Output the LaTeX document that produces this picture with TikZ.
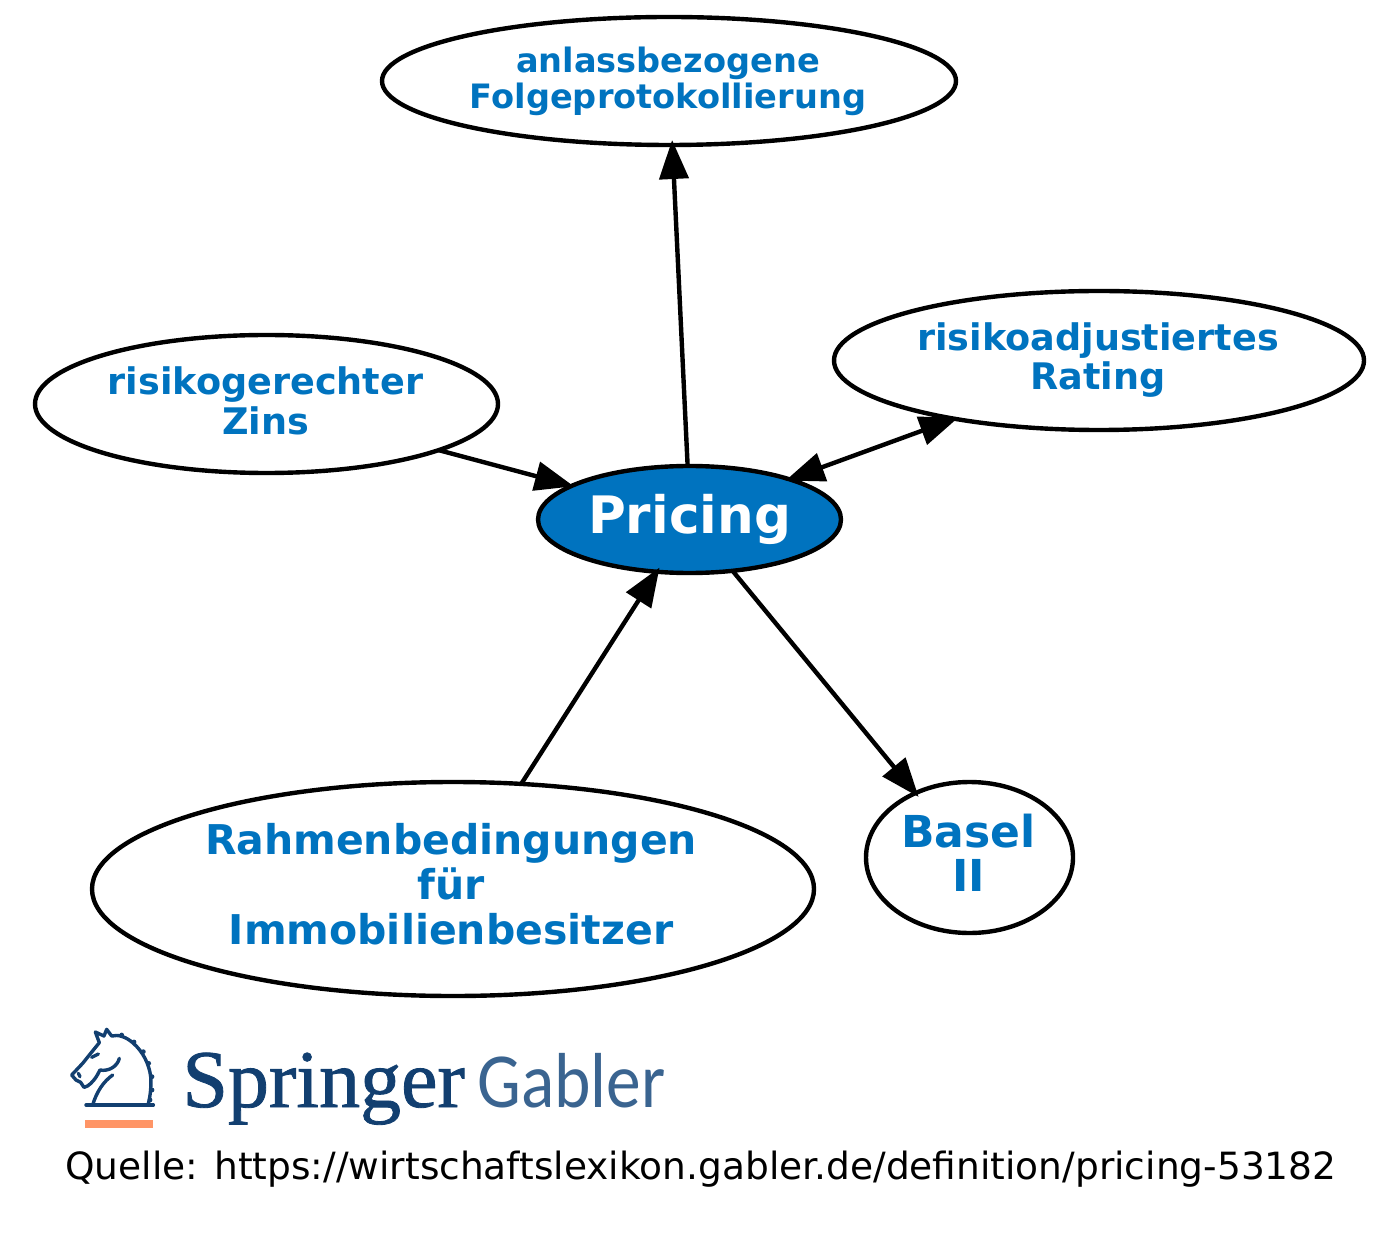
\documentclass[tikz,border=0pt]{standalone}
\usepackage{fontspec}
\setmainfont{DejaVu Sans}
\newfontfamily\logoserif[FakeBold=1]{Liberation Serif}
\newfontfamily\logosans[FakeStretch=0.89]{Carlito}
\usetikzlibrary{shapes.geometric,arrows.meta}
\definecolor{gablerblue}{HTML}{0073BF}
\definecolor{logoblue}{HTML}{123F70}
\definecolor{logolight}{HTML}{3A6490}
\definecolor{logoorange}{HTML}{FF9566}
\tikzset{
  concept/.style={ellipse,draw=black,line width=2.2pt,inner sep=0pt,outer sep=0pt},
  conceptlabel/.style={align=center,text=gablerblue,font=\bfseries,inner sep=0pt},
  link/.style={line width=2.2pt,draw=black,-{Triangle[length=19.5pt,width=14.5pt]},shorten >=-2.5pt},
  duallink/.style={line width=2.2pt,draw=black,{Triangle[length=19.5pt,width=14.5pt]}-{Triangle[length=19.5pt,width=14.5pt]},shorten >=-2pt,shorten <=-2pt},
  horse/.style={draw=logoblue,line width=1.7pt,line join=round,line cap=round}
}
\begin{document}
\begin{tikzpicture}[x=0.5pt,y=-0.5pt]
\useasboundingbox (0,0) rectangle (1400,1234);
\node[concept,minimum width=287pt,minimum height=64pt,
  label={[conceptlabel,name=anlasstext,xshift=-0.5pt,font=\bfseries\fontsize{16.8}{18}\selectfont]center:anlassbezogene\\Folgeprotokollierung}] (anlass) at (669,81) {};
\node[concept,minimum width=265pt,minimum height=69.5pt,
  label={[conceptlabel,name=ratingtext,xshift=-0.5pt,font=\bfseries\fontsize{18.3}{19.5}\selectfont]center:risikoadjustiertes\\Rating}] (rating) at (1099,360.5) {};
\node[concept,minimum width=231.5pt,minimum height=69pt,
  label={[conceptlabel,name=zinstext,xshift=-0.5pt,yshift=1.5pt,font=\bfseries\fontsize{18.3}{20}\selectfont]center:risikogerechter\\Zins}] (zins) at (266.5,404) {};
\node[concept,fill=gablerblue,minimum width=151.5pt,minimum height=53.5pt,
  label={[conceptlabel,name=pricingtext,text=white,font=\bfseries\fontsize{25.8}{28}\selectfont]center:Pricing}] (pricing) at (689.5,519.5) {};
\node[concept,minimum width=361pt,minimum height=107pt,
  label={[conceptlabel,name=rahmentext,xshift=-1pt,yshift=2.2pt,font=\bfseries\fontsize{20.5}{22.5}\selectfont]center:Rahmenbedingungen\\für\\Immobilienbesitzer}] (rahmen) at (453,889) {};
\node[concept,minimum width=103.5pt,minimum height=75.5pt,
  label={[conceptlabel,name=baseltext,xshift=-0.5pt,yshift=2.2pt,font=\bfseries\fontsize{22}{22}\selectfont]center:Basel\\II}] (basel) at (969.5,857.5) {};

\draw[link] (pricing.92) -- (anlass.-87);
\draw[link,shorten >=-1pt] (zins.-15) -- (pricing.164.3);
\draw[duallink] (pricing.22) -- (rating.202);
\draw[link] (rahmen.57.6) -- (pricing.238.2);
\draw[link] (pricing.-50.4) -- (basel.130);

% logo
\begin{scope}[shift={(60,1020)},x=0.16667pt,y=-0.16667pt]
\draw[horse] (78,255) -- (280,255);
\draw[horse] (264,255) .. controls (272,225) and (274,195) .. (272,170) .. controls (268,135) and (250,95) .. (218,68) .. controls (200,52) and (175,42) .. (155,48) -- (140,28) -- (132,48) -- (106,36) -- (118,68) .. controls (100,90) and (80,115) .. (68,130) -- (35,165) -- (48,180) -- (62,187) -- (72,202) .. controls (85,200) and (100,185) .. (112,165) -- (120,150) .. controls (145,155) and (172,140) .. (178,115);
\draw[horse] (158,165) .. controls (130,185) and (110,215) .. (98,255);
\draw[horse] (95,112) -- (115,102);
\draw[horse] (55,160) -- (60,170);
\foreach \px/\py in {185/45,222/66,250/95,266/130,276/170,276/210,270/240}
  \fill[logoblue] (\px,\py) circle[radius=1.2pt];
\fill[logoorange] (76,299) rectangle (280,325);
\end{scope}
\node[anchor=base west,inner sep=0pt,text=logoblue,font=\logoserif\fontsize{41}{41}\selectfont] (springer) at (182,1107) {Springer};
\node[anchor=base west,inner sep=0pt,text=logolight,font=\logosans\fontsize{39}{39}\selectfont] (gabler) at (477,1107) {Gabler};
\node[anchor=base west,inner sep=0pt,text=black,font=\fontsize{18.76}{20}\selectfont] (quelle) at (65,1179) {Quelle: https://wirtschaftslexikon.gabler.de/definition/pricing-53182};
\end{tikzpicture}
\end{document}
